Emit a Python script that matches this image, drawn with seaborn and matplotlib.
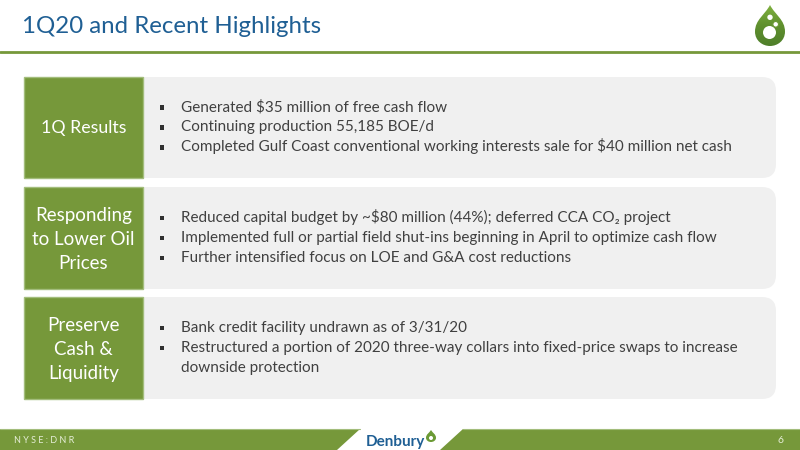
import matplotlib
matplotlib.use('Agg')
import matplotlib.pyplot as plt
from matplotlib.colors import LinearSegmentedColormap
from matplotlib.patches import FancyBboxPatch, Rectangle, Polygon, Circle, PathPatch
from matplotlib.path import Path
import numpy as np
import seaborn as sns

# Slide text
title = '1Q20 and Recent Highlights'
box_labels = ['1Q Results', 'Responding\nto Lower Oil\nPrices', 'Preserve\nCash &\nLiquidity']
label_sizes = [12.8, 13.5, 13.5]
bullets = [
    ['Generated $35 million of free cash flow',
     'Continuing production 55,185 BOE/d',
     'Completed Gulf Coast conventional working interests sale for $40 million net cash'],
    ['Reduced capital budget by ~$80 million (44%); deferred CCA CO\u2082 project',
     'Implemented full or partial field shut-ins beginning in April to optimize cash flow',
     'Further intensified focus on LOE and G&A cost reductions'],
    ['Bank credit facility undrawn as of 3/31/20',
     'Restructured a portion of 2020 three-way collars into fixed-price swaps to increase\ndownside protection'],
]
row_tops = [77, 187, 297]
row_bottoms = [178, 289, 399]
footer_left = 'N Y S E : D N R'
footer_brand = 'Denbury'
page = '6'

GREEN = '#76983a'
BLUE = '#1f5f94'
GREY = '#404040'

sns.set_theme(style='white')
plt.rcParams['font.family'] = ['Lato', 'DejaVu Sans']

fig = plt.figure(figsize=(8, 4.5), dpi=100)
ax = fig.add_axes([0, 0, 1, 1])
ax.set_xlim(0, 800)
ax.set_ylim(450, 0)
ax.axis('off')


def drop_path(cx, top, half, bottom):
    # teardrop outline, scaled from the logo
    h = bottom - top
    pts = [(cx, top), (cx - .17 * half * 2, top + .24 * h), (cx - half, top + .36 * h), (cx - half, top + .65 * h),
           (cx - half, top + .87 * h), (cx - .5 * half, bottom), (cx, bottom),
           (cx + .5 * half, bottom), (cx + half, top + .87 * h), (cx + half, top + .65 * h),
           (cx + half, top + .36 * h), (cx + .17 * half * 2, top + .24 * h), (cx, top)]
    return Path(pts, [Path.MOVETO] + [Path.CURVE4] * 12)


# Header
ax.text(22, 33, title, fontsize=17.3, color=BLUE, va='baseline', ha='left')
ax.plot([0, 800], [51.5, 51.5], color=GREEN, lw=2)

# Logo drop with gradient fill
drop_cmap = LinearSegmentedColormap.from_list('drop', ['#7fb03f', '#5f8f2e', '#4f7f2a'])
grad = ax.imshow(np.linspace(0, 1, 64).reshape(-1, 1), cmap=drop_cmap, extent=(755, 785, 46, 5),
                 aspect='auto', zorder=2)
drop = PathPatch(drop_path(770, 5, 15, 46), fc='none', ec='none', transform=ax.transData)
ax.add_patch(drop)
grad.set_clip_path(drop)
ax.set_xlim(0, 800)
ax.set_ylim(450, 0)
ax.add_patch(Circle((769.5, 32.5), 6.5, fc='white', ec='none', zorder=3))
ax.add_patch(Circle((775.7, 24.3), 2.8, fc='white', ec='#6b9a35', lw=0.8, zorder=3))
ax.add_patch(Circle((770, 17.3), 2.7, fc='white', ec='none', zorder=3))

# Rows
for label, size, lines, top, bottom in zip(box_labels, label_sizes, bullets, row_tops, row_bottoms):
    ax.add_patch(FancyBboxPatch((100, top), 676, bottom - top,
                                boxstyle='round,pad=0,rounding_size=14',
                                fc='#f0f0f0', ec='none'))
    ax.add_patch(Rectangle((24, top), 119, bottom - top, fc=GREEN, ec='#a3bd7c', lw=1))
    mid = (top + bottom) / 2
    ax.text(83.5, mid + (1.5 if '\n' in label else 0.5), label, fontsize=size, color='white',
            ha='center', va='center', linespacing=1.5)

    n_lines = sum(s.count('\n') + 1 for s in lines)
    y = mid - (n_lines - 1) * 20 / 2
    for s in lines:
        ax.add_patch(Rectangle((159.5, y - 2.5), 4.5, 4.5, fc='#303030', ec='none'))
        for part in s.split('\n'):
            ax.text(181, y + 4, part, fontsize=11, color=GREY, ha='left', va='baseline')
            y += 20

# Footer band
ax.add_patch(Polygon([(0, 429), (360, 429), (337, 450), (0, 450)], fc=GREEN, ec='none'))
ax.add_patch(Polygon([(463, 429), (800, 429), (800, 450), (440, 450)], fc=GREEN, ec='none'))
ax.plot([0, 360], [429, 429], color='#a3bd7c', lw=0.8)
ax.plot([463, 800], [429, 429], color='#a3bd7c', lw=0.8)
ax.text(14, 440.5, footer_left, fontsize=6.5, color='#e6eed8', va='center', ha='left')
ax.text(777, 440.5, page, fontsize=7.5, color='#e6eed8', va='center', ha='left')
ax.text(366, 446, footer_brand, fontsize=11, color=BLUE, weight='bold', va='baseline', ha='left')

ax.add_patch(PathPatch(drop_path(431, 430, 5, 442), fc='#6b9a35', ec='none'))
ax.add_patch(Circle((431, 438), 2, fc='white', ec='none'))

fig.savefig('out.png', dpi=100)
